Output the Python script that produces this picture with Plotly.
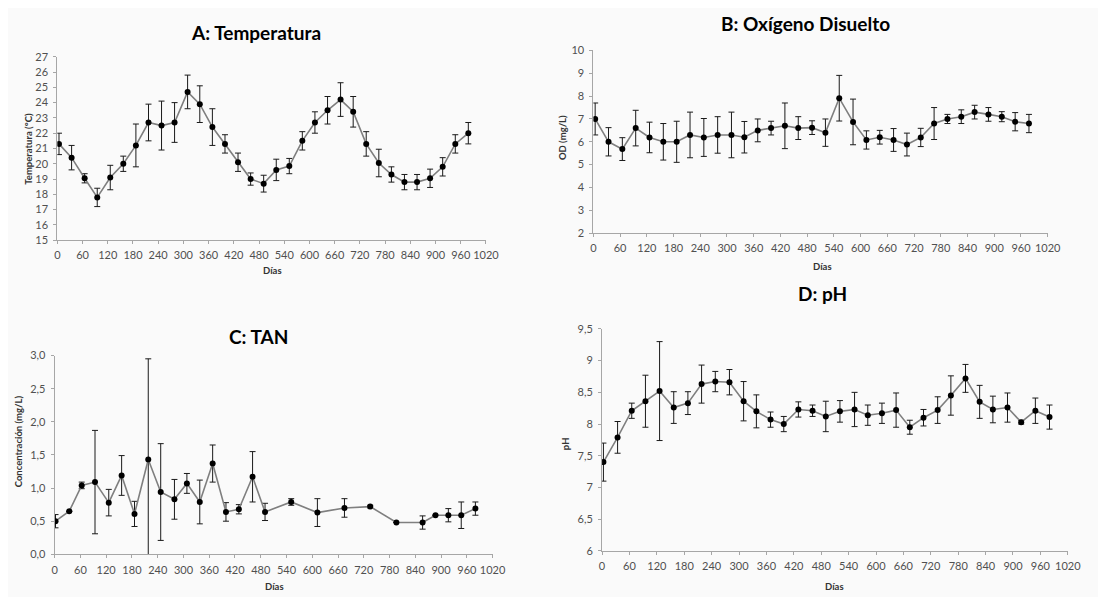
import plotly.graph_objects as go

# ---- data ----
dias_ab = [4, 34, 65, 95, 126, 157, 187, 217, 248, 279, 310, 339, 369, 399, 430, 460,
           491, 521, 552, 583, 613, 643, 674, 704, 735, 765, 795, 826, 856, 887, 917, 947, 978]
temp = [21.3, 20.4, 19.05, 17.8, 19.1, 20.0, 21.2, 22.7, 22.5, 22.7, 24.7, 23.9, 22.4, 21.3,
        20.1, 19.0, 18.7, 19.6, 19.85, 21.5, 22.7, 23.5, 24.2, 23.4, 21.3, 20.05, 19.3, 18.8,
        18.8, 19.05, 19.8, 21.3, 22.0]
temp_err = [0.7, 0.8, 0.3, 0.6, 0.8, 0.5, 1.4, 1.2, 1.6, 1.3, 1.1, 1.2, 1.2, 0.6, 0.6, 0.4,
            0.55, 0.7, 0.5, 0.6, 0.7, 0.9, 1.1, 1.0, 0.8, 0.9, 0.5, 0.5, 0.5, 0.6, 0.6, 0.6, 0.7]

od = [7.0, 6.0, 5.68, 6.6, 6.19, 6.0, 6.0, 6.3, 6.19, 6.3, 6.3, 6.2, 6.5, 6.6, 6.7, 6.6,
      6.62, 6.4, 7.91, 6.87, 6.08, 6.2, 6.08, 5.88, 6.19, 6.8, 7.0, 7.1, 7.3, 7.2, 7.1, 6.88, 6.8]
od_err = [0.7, 0.62, 0.5, 0.78, 0.67, 0.8, 0.9, 1.0, 0.83, 0.8, 1.0, 0.69, 0.5, 0.3, 1.0, 0.5,
          0.3, 0.6, 1.0, 1.0, 0.4, 0.3, 0.5, 0.5, 0.4, 0.7, 0.2, 0.3, 0.3, 0.3, 0.22, 0.4, 0.4]

dias_c = [2, 34, 63, 94, 126, 156, 186, 218, 247, 279, 308, 338, 368, 399, 429, 461, 490,
          551, 612, 675, 735, 796, 857, 887, 917, 947, 980]
tan = [0.5, 0.65, 1.04, 1.09, 0.78, 1.19, 0.61, 1.43, 0.94, 0.83, 1.07, 0.79, 1.37, 0.64,
       0.68, 1.17, 0.64, 0.79, 0.63, 0.70, 0.72, 0.48, 0.48, 0.59, 0.59, 0.59, 0.69]
tan_err = [0.1, 0.0, 0.05, 0.78, 0.2, 0.3, 0.19, 1.52, 0.73, 0.3, 0.15, 0.33, 0.28, 0.14,
           0.07, 0.38, 0.13, 0.05, 0.21, 0.14, 0.02, 0.0, 0.1, 0.0, 0.1, 0.2, 0.1]

dias_d = [3, 34, 65, 95, 126, 157, 188, 218, 248, 279, 310, 338, 369, 398, 430, 461, 490,
          521, 553, 582, 613, 644, 674, 704, 735, 764, 796, 827, 856, 888, 918, 949, 980]
ph = [7.40, 7.79, 8.21, 8.36, 8.52, 8.26, 8.33, 8.63, 8.67, 8.66, 8.36, 8.2, 8.07, 8.0, 8.23,
      8.21, 8.12, 8.2, 8.23, 8.14, 8.17, 8.22, 7.95, 8.1, 8.22, 8.45, 8.72, 8.35, 8.23, 8.26,
      8.03, 8.21, 8.11]
ph_err = [0.3, 0.25, 0.12, 0.41, 0.78, 0.25, 0.18, 0.3, 0.16, 0.2, 0.31, 0.26, 0.12, 0.12,
          0.12, 0.09, 0.24, 0.17, 0.27, 0.16, 0.16, 0.27, 0.11, 0.13, 0.21, 0.31, 0.22, 0.26,
          0.21, 0.23, 0.03, 0.2, 0.19]

x_ticks = list(range(0, 1021, 60))

OFF = 8  # page body margin
W, H = 1106 - OFF, 597 - OFF
FONT = "Lato, 'Open Sans', sans-serif"
TICK_COL = "#505050"
AX_COL = "#a6a6a6"


def px(v):
    return (v - OFF) / W


def py(v):
    return 1 - (v - OFF) / H


panels = [
    dict(x=dias_ab, y=temp, e=temp_err, xd=(55, 490), yd=(50.7, 238.3),
         yr=(15, 27), dt=1, fmt=None, title="A: Temperatura", tpos=(257, 26),
         ytitle="Temperatura (°C)", xt=(273, 269), yt=(26, 145)),
    dict(x=dias_ab, y=od, e=od_err, xd=(599, 1060), yd=(44.3, 231),
         yr=(2, 10), dt=1, fmt=None, title="B: Oxígeno Disuelto", tpos=(814, 17),
         ytitle="OD (mg/L)", xt=(831, 265), yt=(567, 133)),
    dict(x=dias_c, y=tan, e=tan_err, xd=(52.3, 496.7), yd=(356.2, 559.5),
         yr=(0, 3), dt=0.5, fmt=".1f", title="C: TAN", tpos=(259, 337),
         ytitle="Concentración (mg/L)", xt=(275, 592), yt=(15, 444)),
    dict(x=dias_d, y=ph, e=ph_err, xd=(607.8, 1080.4), yd=(329, 556),
         yr=(6, 9.5), dt=0.5, fmt=None, title="D: pH", tpos=(832, 293),
         ytitle="pH", xt=(844, 592), yt=(571, 446)),
]

fig = go.Figure()
ann = []
lay = {}
for i, p in enumerate(panels, start=1):
    sfx = "" if i == 1 else str(i)
    fig.add_trace(go.Scatter(
        x=p["x"], y=p["y"], mode="lines+markers",
        line=dict(color="#7f7f7f", width=1.6),
        marker=dict(color="black", size=6),
        error_y=dict(type="data", array=p["e"], visible=True, color="#1a1a1a",
                     thickness=1, width=3),
        xaxis="x" + sfx, yaxis="y" + sfx, showlegend=False, cliponaxis=True))
    lay["xaxis" + sfx] = dict(
        domain=[px(p["xd"][0]), px(p["xd"][1])], range=[0, 1020],
        tickvals=x_ticks, ticks="outside", ticklen=3, tickcolor=AX_COL,
        showline=True, linecolor=AX_COL, linewidth=1, showgrid=False, zeroline=False,
        ticklabelstandoff=2,
        tickfont=dict(family=FONT, size=11, color=TICK_COL), anchor="y" + sfx)
    yax = dict(
        domain=[py(p["yd"][1]), py(p["yd"][0])], range=list(p["yr"]),
        dtick=p["dt"], tick0=0, ticks="outside", ticklen=3, tickcolor=AX_COL,
        showline=True, linecolor=AX_COL, linewidth=1, showgrid=False, zeroline=False,
        ticklabelstandoff=3,
        tickfont=dict(family=FONT, size=11, color=TICK_COL), anchor="x" + sfx)
    if p["fmt"]:
        yax["tickformat"] = p["fmt"]
    lay["yaxis" + sfx] = yax
    common = dict(xref="paper", yref="paper", showarrow=False,
                  xanchor="center", yanchor="middle")
    ann.append(dict(text="<b>" + p["title"] + "</b>", x=px(p["tpos"][0]), y=py(p["tpos"][1]),
                    font=dict(family=FONT, size=19, color="black"), **common))
    ann.append(dict(text="<b>Días</b>", x=px(p["xt"][0]), y=py(p["xt"][1]),
                    font=dict(family=FONT, size=9.5, color="#333333"), **common))
    ann.append(dict(text="<b>" + p["ytitle"] + "</b>", x=px(p["yt"][0]), y=py(p["yt"][1]),
                    textangle=-90, font=dict(family=FONT, size=9.5, color="#333333"), **common))

fig.update_layout(
    width=W, height=H, margin=dict(l=0, r=0, t=0, b=0),
    paper_bgcolor="#fafafa", plot_bgcolor="#fafafa",
    separators=",.", annotations=ann, **lay)

fig.write_html("out.html")
